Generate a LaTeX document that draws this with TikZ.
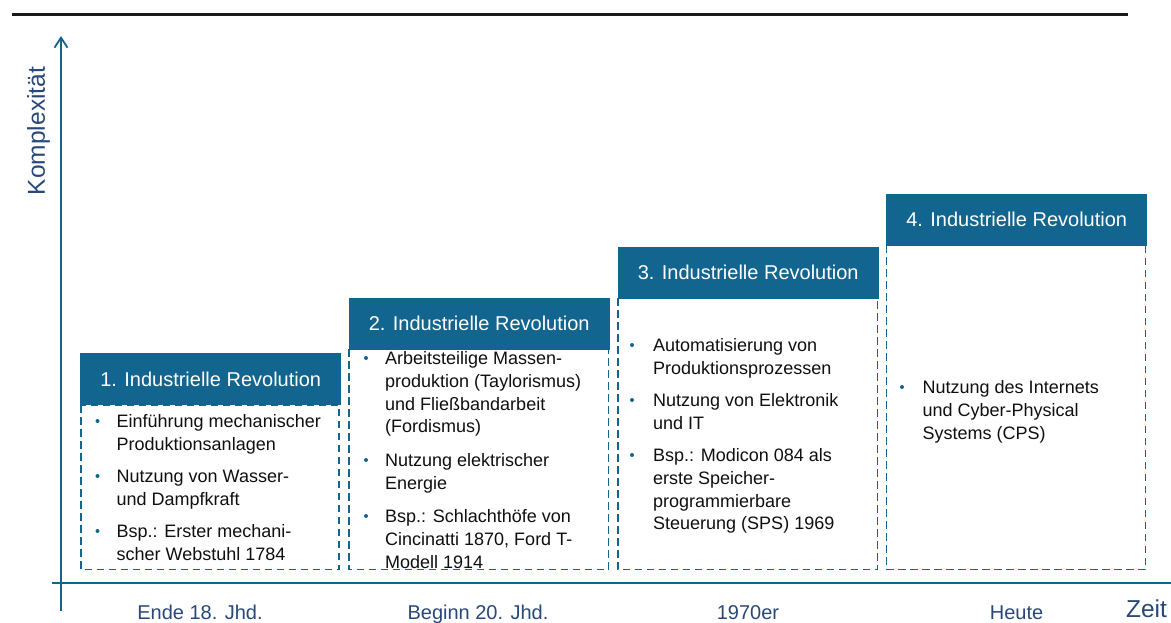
\documentclass[tikz,border=0pt]{standalone}
\usepackage{fontspec}
\setmainfont{Liberation Sans}
\usetikzlibrary{arrows.meta}
\definecolor{hc}{RGB}{17,101,143}
\definecolor{lc}{RGB}{40,72,120}
\definecolor{tc}{RGB}{15,15,15}
\begin{document}
\begin{tikzpicture}[x=1pt,y=-1pt,
  header/.style={fill=hc, text=white, minimum width=261pt, minimum height=52pt, anchor=north west, inner sep=0pt, font=\fontsize{20}{24}\selectfont},
  bodybox/.style={draw=hc, dash pattern=on 7.5pt off 4.5pt, line width=1.8pt},
  item/.style={anchor=north west, inner sep=0pt, align=left, text=tc, font=\fontsize{18}{22.7}\selectfont},
  bul/.style={circle, fill=hc, inner sep=0pt, minimum size=4pt},
  axis/.style={draw=hc, line width=1.8pt},
  axlabel/.style={text=lc, inner sep=0pt, font=\fontsize{20}{24}\selectfont, anchor=base},
]
\useasboundingbox (0,0) rectangle (1171,622);

% top rule
\coordinate (tl) at (12,14);
\coordinate (tr) at (1128,14);
\draw[line width=3pt, black!90] (tl) -- (tr);

% axes
\coordinate (yb) at (61,611);
\coordinate (yt) at (61,36);
\draw[axis, -{Straight Barb[length=10pt,width=13pt]}] (yb) -- (yt);
\coordinate (xl) at (52,583);
\coordinate (xr) at (1171,583);
\draw[axis] (xl) -- (xr);

\node[rotate=90, text=lc, inner sep=0pt, font=\fontsize{24.5}{29}\selectfont, anchor=base] (ylab) at (45,131) {Komplexität};
\node[text=lc, inner sep=0pt, font=\fontsize{24.5}{29}\selectfont, anchor=base] (xlab) at (1146.5,617) {Zeit};

\node[axlabel] (l1) at (200,619.5) {Ende 18. Jhd.};
\node[axlabel] (l2) at (478,619.5) {Beginn 20. Jhd.};
\node[axlabel] (l3) at (748,619.5) {1970er};
\node[axlabel] (l4) at (1016.5,619.5) {Heute};

% body boxes
\draw[bodybox] (81,405) rectangle (339,569.5);
\draw[bodybox] (349,349) rectangle (608.5,569.5);
\draw[bodybox] (618,298) rectangle (877.5,569.5);
\draw[bodybox] (886.5,245) rectangle (1145.5,569.5);

% headers
\node[header] (h1) at (80,353) {1. Industrielle Revolution};
\node[header] (h2) at (348.5,297.5) {2. Industrielle Revolution};
\node[header] (h3) at (617.5,246.5) {3. Industrielle Revolution};
\node[header] (h4) at (886,193.5) {4. Industrielle Revolution};

% box 1
\node[bul] (b11) at (97.5,421) {};
\node[item] (t11) at (116.5,411.6) {\strut Einführung mechanischer\\Produktionsanlagen};
\node[bul] (b12) at (97.5,476) {};
\node[item] (t12) at (116.5,466.6) {\strut Nutzung von Wasser-\\und Dampfkraft};
\node[bul] (b13) at (97.5,531) {};
\node[item] (t13) at (116.5,521.6) {\strut Bsp.: Erster mechani-\\scher Webstuhl 1784};

% box 2
\node[bul] (b21) at (366,358) {};
\node[item] (t21) at (385,348.6) {\strut Arbeitsteilige Massen-\\produktion (Taylorismus)\\und Fließbandarbeit\\(Fordismus)};
\node[bul] (b22) at (366,460) {};
\node[item] (t22) at (385,450.6) {\strut Nutzung elektrischer\\Energie};
\node[bul] (b23) at (366,516) {};
\node[item] (t23) at (385,506.6) {\strut Bsp.: Schlachthöfe von\\Cincinatti 1870, Ford T-\\Modell 1914};

% box 3
\node[bul] (b31) at (632,345) {};
\node[item] (t31) at (653,335.6) {\strut Automatisierung von\\Produktionsprozessen};
\node[bul] (b32) at (632,400) {};
\node[item] (t32) at (653,390.6) {\strut Nutzung von Elektronik\\und IT};
\node[bul] (b33) at (632,455) {};
\node[item] (t33) at (653,445.6) {\strut Bsp.: Modicon 084 als\\erste Speicher-\\programmierbare\\Steuerung (SPS) 1969};

% box 4
\node[bul] (b41) at (902,387) {};
\node[item] (t41) at (922.5,377.6) {\strut Nutzung des Internets\\und Cyber-Physical\\Systems (CPS)};
\end{tikzpicture}
\end{document}
